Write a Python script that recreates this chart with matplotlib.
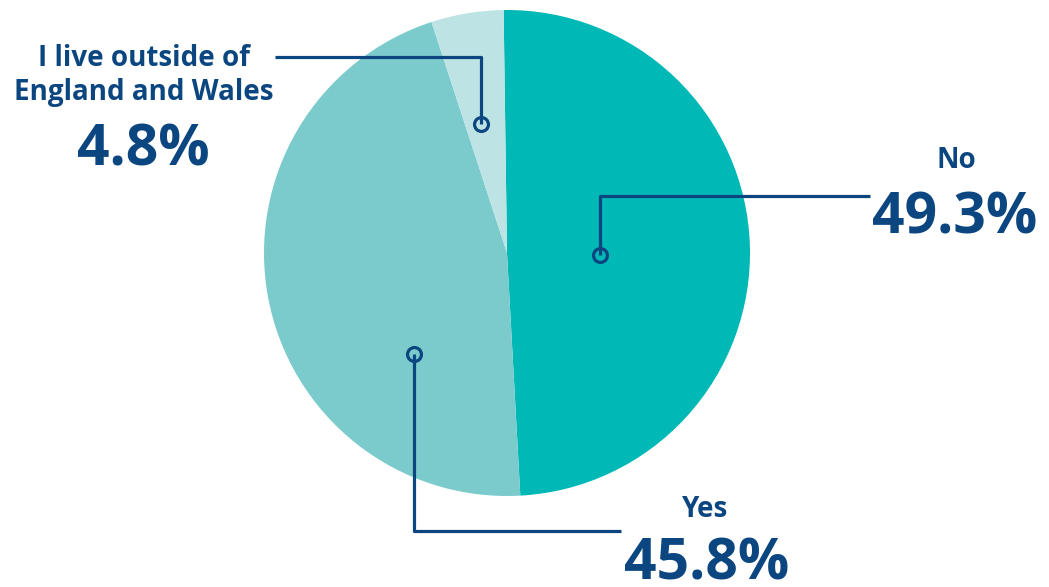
import matplotlib.pyplot as plt

# --- data ---
labels = ['No', 'Yes', 'I live outside of\nEngland and Wales']
values = [49.3, 45.8, 4.8]
pct_text = ['49.3%', '45.8%', '4.8%']
colors = ['#00B9B7', '#7BCBCC', '#BDE3E4']
navy = '#0B4680'

W, H = 1049, 587
cx, cy, R = 507, 253, 243  # pie centre / radius in pixels


def px(x, y):
    # pixel position -> data units (pie radius = 1)
    return (x - cx) / R, (cy - y) / R


fig = plt.figure(figsize=(W / 100, H / 100), dpi=100)
ax = fig.add_axes([0, 0, 1, 1])

ax.pie(values, colors=colors, startangle=90.8, counterclock=False,
       radius=1, center=(0, 0), frame=True,
       wedgeprops=dict(linewidth=0))
ax.set_xlim(-cx / R, (W - cx) / R)
ax.set_ylim(-(H - cy) / R, cy / R)
ax.set_aspect('equal')
ax.axis('off')

# leader lines: dot -> elbow -> end
leaders = [
    [(600, 255), (600, 196), (870, 196)],   # No
    [(414, 354), (414, 531), (621, 531)],   # Yes
    [(481, 124), (481, 57), (275, 57)],     # outside
]
for pts in leaders:
    xs, ys = zip(*[px(*p) for p in pts])
    ax.plot(xs, ys, color=navy, lw=2.3, solid_capstyle='butt', zorder=3)
    ax.plot(xs[0], ys[0], 'o', ms=10, mfc='none', mec=navy, mew=2.3, zorder=4)

font = ['Open Sans', 'DejaVu Sans']
# category labels (baseline positions in pixels)
label_pos = [(956, 168), (705, 517), (144, 100)]
pct_pos = [(955, 233), (707, 579), (143, 165)]
for lab, (x, y) in zip(labels, label_pos):
    ax.text(*px(x, y), lab, ha='center', va='baseline', fontsize=20,
            fontweight='bold', color=navy, family=font, linespacing=1.25)
for t, (x, y) in zip(pct_text, pct_pos):
    ax.text(*px(x, y), t, ha='center', va='baseline', fontsize=41,
            fontweight='bold', color=navy, family=font)

fig.savefig('out.png', dpi=100)
